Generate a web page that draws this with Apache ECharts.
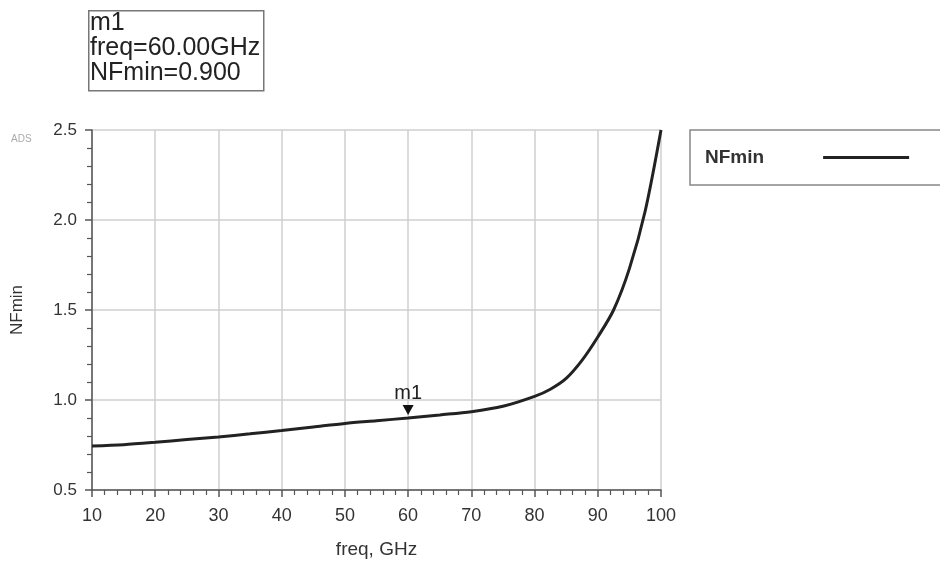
<!DOCTYPE html>
<html>
<head>
<meta charset="utf-8">
<script src="https://cdn.jsdelivr.net/npm/echarts@6/dist/echarts.min.js"></script>
<style>
html,body{margin:0;padding:0;background:#fff;}
#c{width:940px;height:568px;}
</style>
</head>
<body>
<div id="c"></div>
<script>
// Data
var freq  = [10, 15, 20, 25, 30, 35, 40, 45, 50, 55, 60, 65, 70, 75, 80, 82.5, 85, 87.5, 90, 92.5, 95, 97.5, 100];
var nfmin = [0.745, 0.752, 0.765, 0.78, 0.795, 0.812, 0.83, 0.85, 0.87, 0.885, 0.90, 0.917, 0.935, 0.965, 1.02, 1.06, 1.12, 1.22, 1.35, 1.50, 1.73, 2.05, 2.50];
var xTicks = [10, 20, 30, 40, 50, 60, 70, 80, 90, 100];
var yTicks = [0.5, 1.0, 1.5, 2.0, 2.5];
var markerFreq = 60;
var markerValue = 0.900;
var seriesName = 'NFmin';

var chart = echarts.init(document.getElementById('c'));
var pts = freq.map(function (f, i) { return [f, nfmin[i]]; });
var font = 'Liberation Sans, Arial, sans-serif';

chart.setOption({
  animation: false,
  backgroundColor: '#fff',
  grid: { left: 92, right: 279, top: 130, bottom: 78, containLabel: false },
  legend: {
    left: 690, top: 130,
    orient: 'vertical',
    align: 'right',
    backgroundColor: '#fff',
    borderColor: '#888', borderWidth: 1.5, borderRadius: 0,
    padding: [18, 60, 18, 15],
    itemWidth: 86, itemHeight: 3,
    textStyle: { fontFamily: font, fontSize: 19, fontWeight: 'bold', color: '#333', padding: [0, 54, 0, 0] },
    data: [{ name: seriesName, icon: 'rect', itemStyle: { color: '#222' } }]
  },
  xAxis: {
    type: 'value', min: 10, max: 100, interval: 10,
    name: 'freq, GHz', nameLocation: 'middle', nameGap: 50,
    nameTextStyle: { fontFamily: font, fontSize: 19, color: '#333' },
    axisLine: { show: true, lineStyle: { color: '#555', width: 1.5 } },
    axisTick: { show: true, length: 7, lineStyle: { color: '#555', width: 1.5 } },
    minorTick: { show: true, splitNumber: 5, length: 5, lineStyle: { color: '#555', width: 1.2 } },
    axisLabel: { fontFamily: font, fontSize: 18, color: '#333', margin: 17,
      formatter: function (v) { return xTicks.indexOf(v) >= 0 ? String(v) : ''; } },
    splitLine: { show: true, lineStyle: { color: '#cfcfcf', width: 1.5 } }
  },
  yAxis: {
    type: 'value', min: 0.5, max: 2.5, interval: 0.5,
    name: 'NFmin', nameLocation: 'middle', nameGap: 66, nameRotate: 90,
    nameTextStyle: { fontFamily: font, fontSize: 17, color: '#333' },
    axisLine: { show: true, lineStyle: { color: '#555', width: 1.5 } },
    axisTick: { show: true, length: 7, lineStyle: { color: '#555', width: 1.5 } },
    minorTick: { show: true, splitNumber: 5, length: 5, lineStyle: { color: '#555', width: 1.2 } },
    axisLabel: { fontFamily: font, fontSize: 17, color: '#333', margin: 15,
      formatter: function (v) { return yTicks.indexOf(v) >= 0 ? v.toFixed(1) : ''; } },
    splitLine: { show: true, lineStyle: { color: '#cfcfcf', width: 1.5 } }
  },
  series: [{
    name: seriesName,
    type: 'line',
    data: pts,
    smooth: 0.3,
    symbol: 'none',
    lineStyle: { color: '#222', width: 3 },
    itemStyle: { color: '#222' },
    markPoint: {
      symbol: 'triangle',
      symbolRotate: 180,
      symbolSize: [11, 10],
      symbolOffset: [0, -8],
      itemStyle: { color: '#111' },
      label: { show: true, position: 'top', distance: 2, formatter: 'm1',
        fontFamily: font, fontSize: 20, color: '#222' },
      data: [{ coord: [markerFreq, markerValue] }]
    }
  }],
  graphic: [
    { type: 'rect', left: 88, top: 10, shape: { width: 175, height: 80 },
      style: { fill: '#fff', stroke: '#777', lineWidth: 1.5 } },
    { type: 'text', left: 90, top: 11,
      style: { text: 'm1\nfreq=' + markerFreq.toFixed(2) + 'GHz\nNFmin=' + markerValue.toFixed(3),
        font: '25px ' + font, fill: '#222', lineHeight: 25 } },
    { type: 'text', left: 11, top: 134,
      style: { text: 'ADS', font: '10px ' + font, fill: '#aaa' } }
  ]
});
</script>
</body>
</html>
